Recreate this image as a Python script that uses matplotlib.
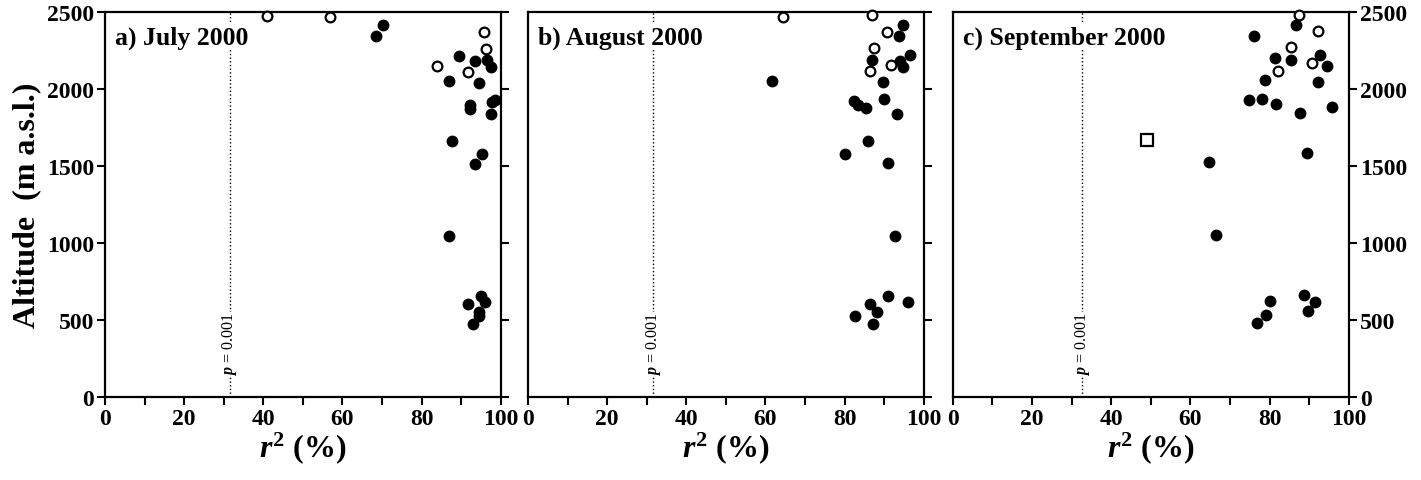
import numpy as np
import matplotlib.pyplot as plt

plt.rcParams['font.family'] = ['Liberation Serif', 'DejaVu Serif']
plt.rcParams['font.weight'] = 'bold'
plt.rcParams['mathtext.fontset'] = 'custom'
plt.rcParams['mathtext.rm'] = 'Liberation Serif:bold'
plt.rcParams['mathtext.it'] = 'Liberation Serif:italic:bold'
plt.rcParams['mathtext.bf'] = 'Liberation Serif:bold'

titles = ["a) July 2000", "b) August 2000", "c) September 2000"]
p_line = [31.5, 31.6, 32.7]

# July 2000
jul_filled_r2 = [70.3, 68.4, 89.5, 93.6, 96.4, 97.6, 86.8, 94.5, 98.5, 97.9, 92.2, 92.2,
                 97.6, 87.6, 95.3, 93.6, 86.8, 95.0, 95.9, 91.6, 94.4, 94.4, 93.0]
jul_filled_alt = [2416, 2342, 2212, 2180, 2191, 2145, 2050, 2037, 1931, 1918, 1896, 1870,
                  1838, 1665, 1576, 1515, 1048, 654, 619, 606, 554, 524, 472]
jul_open_r2 = [40.9, 56.8, 95.8, 96.2, 84.0, 91.8]
jul_open_alt = [2476, 2465, 2372, 2260, 2151, 2108]

# August 2000
aug_filled_r2 = [94.8, 93.7, 96.6, 93.9, 94.8, 86.8, 89.7, 90.0, 82.3, 83.4, 85.5, 93.3,
                 85.9, 80.1, 91.0, 61.6, 92.8, 91.0, 96.0, 86.4, 88.2, 82.6, 87.2]
aug_filled_alt = [2416, 2342, 2221, 2184, 2145, 2191, 2043, 1935, 1924, 1896, 1874, 1838,
                  1665, 1578, 1519, 2050, 1048, 658, 619, 604, 554, 524, 472]
aug_open_r2 = [64.4, 87.0, 90.6, 87.4, 91.8, 86.4]
aug_open_alt = [2465, 2481, 2372, 2264, 2158, 2115]

# September 2000
sep_filled_r2 = [86.6, 76.2, 92.8, 94.5, 81.3, 85.4, 78.9, 92.3, 74.7, 78.2, 81.6, 95.8,
                 87.6, 89.5, 64.6, 66.4, 88.8, 80.2, 91.6, 89.8, 79.2, 76.8]
sep_filled_alt = [2418, 2346, 2223, 2151, 2199, 2186, 2058, 2048, 1927, 1937, 1903, 1881,
                  1844, 1584, 1524, 1052, 662, 625, 615, 561, 532, 481]
sep_open_r2 = [87.4, 92.3, 85.5, 90.8, 82.2]
sep_open_alt = [2481, 2379, 2271, 2167, 2119]
sep_square_r2 = [49.1]
sep_square_alt = [1669]

filled = [(jul_filled_r2, jul_filled_alt), (aug_filled_r2, aug_filled_alt), (sep_filled_r2, sep_filled_alt)]
opened = [(jul_open_r2, jul_open_alt), (aug_open_r2, aug_open_alt), (sep_open_r2, sep_open_alt)]

fig = plt.figure(figsize=(14.21, 4.81), dpi=100)
lefts = [0.0739, 0.3716, 0.6706]
axes = []
for i in range(3):
    ax = fig.add_axes([lefts[i], 0.1726, 0.2785, 0.8004])
    axes.append(ax)
    ax.plot(p_line[i] * np.ones(2), [0, 2500], color='black', ls=':', lw=1, zorder=1)
    ax.plot(filled[i][0], filled[i][1], 'o', color='black', ms=7.5, clip_on=False, zorder=3)
    ax.plot(opened[i][0], opened[i][1], 'o', mfc='white', mec='black', mew=1.6, ms=7,
            clip_on=False, zorder=3)
    if i == 2:
        ax.plot(sep_square_r2, sep_square_alt, 's', mfc='white', mec='black', mew=1.6, ms=8, zorder=3)
    ax.set_xlim(0, 100)
    ax.set_ylim(0, 2500)
    ax.set_xticks(np.arange(0, 101, 20))
    ax.set_xticks(np.arange(10, 100, 20), minor=True)
    ax.set_yticks(np.arange(0, 2501, 500))
    for s in ax.spines.values():
        s.set_linewidth(1.6)
    ax.tick_params(axis='x', which='both', direction='out', length=6, width=1.5,
                   labelsize=17, pad=2)
    ax.tick_params(axis='y', direction='out', length=6, width=1.5, labelsize=17, pad=2,
                   left=(i == 0), labelleft=(i == 0), right=True, labelright=(i == 2))
    ax.text(0.025, 0.935, titles[i], transform=ax.transAxes, fontsize=18.5, fontweight='bold',
            ha='left', va='center', zorder=4,
            bbox=dict(facecolor='white', edgecolor='none', pad=1))
    ax.text(p_line[i], 345, '$\\mathit{p}$ = 0.001', rotation=90, fontsize=11.5,
            fontweight='normal', ha='center', va='center', zorder=4,
            bbox=dict(facecolor='white', edgecolor='none', pad=0.5))
    ax.set_xlabel('$\\mathit{r}^{2}$ (%)', fontsize=23, fontweight='bold', labelpad=0)

axes[0].set_ylabel('Altitude  (m a.s.l.)', fontsize=23, fontweight='bold', labelpad=4)

plt.savefig('out.png', dpi=100)
